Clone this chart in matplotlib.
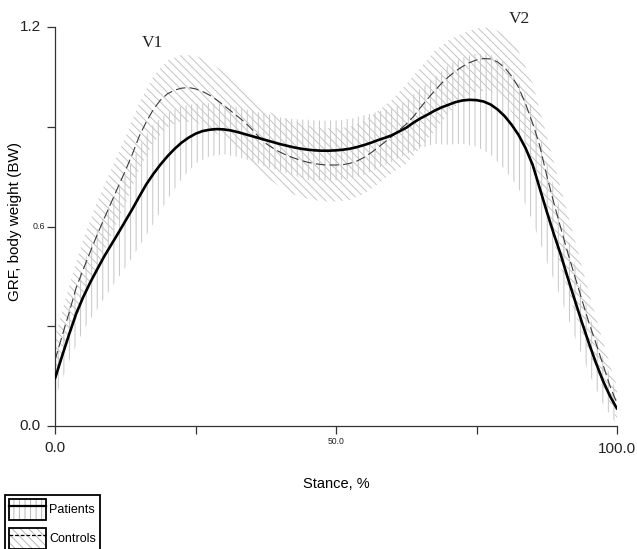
import matplotlib
matplotlib.use("Agg")
import matplotlib.pyplot as plt
import numpy as np
from matplotlib.patches import Patch
from matplotlib.lines import Line2D
from matplotlib.legend_handler import HandlerTuple

# ---- data ----
stance = [0, 1.25, 2.5, 3.75, 5, 6.25, 7.5, 8.75, 10, 11.25, 12.5, 13.75, 15, 16.25,
          17.5, 18.75, 20, 21.25, 22.5, 23.75, 25, 26.25, 27.5, 28.75, 30, 31.25,
          32.5, 33.75, 35, 36.25, 37.5, 38.75, 40, 41.25, 42.5, 43.75, 45, 46.25,
          47.5, 48.75, 50, 51.25, 52.5, 53.75, 55, 56.25, 57.5, 58.75, 60, 61.25,
          62.5, 63.75, 65, 66.25, 67.5, 68.75, 70, 71.25, 72.5, 73.75, 75, 76.25,
          77.5, 78.75, 80, 81.25, 82.5, 83.75, 85, 86.25, 87.5, 88.75, 90, 91.25,
          92.5, 93.75, 95, 96.25, 97.5, 98.75, 100]

patients_mean = [0.143, 0.21, 0.275, 0.337, 0.387, 0.431, 0.471, 0.51, 0.545, 0.58,
                 0.616, 0.652, 0.69, 0.727, 0.758, 0.786, 0.811, 0.833, 0.852, 0.867,
                 0.879, 0.887, 0.891, 0.893, 0.892, 0.889, 0.884, 0.878, 0.872, 0.866,
                 0.86, 0.854, 0.848, 0.843, 0.838, 0.834, 0.831, 0.829, 0.828, 0.828,
                 0.829, 0.831, 0.834, 0.839, 0.845, 0.852, 0.86, 0.867, 0.875, 0.886,
                 0.897, 0.912, 0.925, 0.936, 0.948, 0.958, 0.966, 0.974, 0.979, 0.981,
                 0.98, 0.976, 0.967, 0.952, 0.932, 0.906, 0.875, 0.835, 0.785, 0.715,
                 0.645, 0.578, 0.515, 0.445, 0.378, 0.312, 0.249, 0.19, 0.136, 0.09, 0.052]

controls_mean = [0.198, 0.27, 0.34, 0.415, 0.47, 0.523, 0.575, 0.624, 0.672, 0.72,
                 0.767, 0.817, 0.872, 0.915, 0.952, 0.98, 0.999, 1.01, 1.016, 1.018,
                 1.014, 1.006, 0.995, 0.981, 0.965, 0.948, 0.931, 0.914, 0.893, 0.87,
                 0.85, 0.836, 0.824, 0.814, 0.806, 0.799, 0.793, 0.789, 0.786, 0.785,
                 0.785, 0.786, 0.79, 0.797, 0.808, 0.822, 0.838, 0.855, 0.872, 0.89,
                 0.908, 0.93, 0.957, 0.983, 1.007, 1.03, 1.05, 1.067, 1.081, 1.093,
                 1.101, 1.105, 1.104, 1.095, 1.078, 1.052, 1.018, 0.968, 0.91, 0.843,
                 0.753, 0.672, 0.595, 0.52, 0.45, 0.38, 0.311, 0.249, 0.185, 0.12, 0.068]

band_stance = [0, 2.5, 5, 7.5, 10, 12.5, 15, 17.5, 20, 22.5, 25, 27.5, 30, 32.5, 35,
               37.5, 40, 42.5, 45, 47.5, 50, 52.5, 55, 57.5, 60, 62.5, 65, 67.5, 70,
               72.5, 75, 77.5, 80, 82.5, 85, 87.5, 90, 92.5, 95, 97.5, 100]
patients_sd = [0.06, 0.08, 0.10, 0.12, 0.13, 0.14, 0.15, 0.15, 0.13, 0.11, 0.09, 0.08,
               0.075, 0.075, 0.075, 0.08, 0.08, 0.085, 0.09, 0.09, 0.09, 0.09, 0.09,
               0.085, 0.08, 0.08, 0.09, 0.10, 0.12, 0.13, 0.14, 0.15, 0.16, 0.16, 0.17,
               0.15, 0.13, 0.11, 0.09, 0.07, 0.05]
controls_sd = [0.07, 0.08, 0.09, 0.10, 0.10, 0.10, 0.10, 0.10, 0.10, 0.10, 0.10, 0.10,
               0.10, 0.10, 0.10, 0.10, 0.105, 0.11, 0.11, 0.11, 0.11, 0.11, 0.11, 0.11,
               0.11, 0.12, 0.12, 0.12, 0.11, 0.10, 0.095, 0.095, 0.10, 0.11, 0.12,
               0.12, 0.12, 0.11, 0.09, 0.07, 0.05]

yticks = [0.0, 0.3, 0.6, 0.9, 1.2]
xticks = [0, 25, 50, 75, 100]
ytick_labels = {0.0: ("0.0", 11, -10.8), 0.6: ("0.6", 6.4, -7.0), 1.2: ("1.2", 11, -10.3)}
xtick_labels = {0: ("0.0", 11, -15.8), 50: ("50.0", 6.2, -11.3), 100: ("100.0", 11, -16.3)}

# ---- figure ----
plt.rcParams['font.family'] = ['Liberation Sans', 'DejaVu Sans']
plt.rcParams['hatch.linewidth'] = 0.7

W, H = 637, 549
fig = plt.figure(figsize=(W / 100, H / 100), dpi=100)
ax = fig.add_axes([55 / W, 1 - 426 / H, (617 - 55) / W, (426 - 27) / H])

bx = np.array(band_stance)
bp_m = np.interp(bx, stance, patients_mean)
bc_m = np.interp(bx, stance, controls_mean)
ps, cs = np.array(patients_sd), np.array(controls_sd)

band_grey_p = '#c6c6c6'
band_grey_c = '#c4c4c4'

ax.fill_between(bx, bc_m - cs, bc_m + cs, facecolor='none', edgecolor=band_grey_c,
                linewidth=0, hatch='\\\\\\\\', zorder=1)
ax.fill_between(bx, bp_m - ps, bp_m + ps, facecolor='none', edgecolor=band_grey_p,
                linewidth=0, hatch='|||', zorder=1)

ax.plot(stance, controls_mean, color='#3a3a3a', lw=0.8, dashes=(8.5, 3.8), zorder=3)
ax.plot(stance, patients_mean, color='black', lw=1.9, zorder=4,
        solid_capstyle='round', solid_joinstyle='round')

ax.set_xlim(0, 100)
ax.set_ylim(0, 1.2)
for s in ('top', 'right'):
    ax.spines[s].set_visible(False)
for s in ('left', 'bottom'):
    ax.spines[s].set_color('#333333')
    ax.spines[s].set_linewidth(0.9)

ax.set_yticks(yticks)
ax.set_xticks(xticks)
ax.set_yticklabels([])
ax.set_xticklabels([])
ax.tick_params(axis='both', direction='out', length=6, width=0.9, color='#333333')

for v, (lab, fs, off) in ytick_labels.items():
    ax.annotate(lab, xy=(0, v), xycoords=('axes fraction', 'data'),
                xytext=(off, 0), textcoords='offset points',
                ha='right', va='center', fontsize=fs, color='#222222')
for v, (lab, fs, off) in xtick_labels.items():
    ax.annotate(lab, xy=(v, 0), xycoords=('data', 'axes fraction'),
                xytext=(0, off), textcoords='offset points',
                ha='center', va='center', fontsize=fs, color='#222222')

ax.text(17.4, 1.153, 'V1', family=['Liberation Serif', 'DejaVu Serif'], fontsize=12.5,
        ha='center', va='center', color='#222222')
ax.text(82.6, 1.224, 'V2', family=['Liberation Serif', 'DejaVu Serif'], fontsize=12.5,
        ha='center', va='center', color='#222222', clip_on=False)

fig.text(336 / W, 1 - 484 / H, 'Stance, %', ha='center', va='center', fontsize=10.5)
fig.text(15 / W, 1 - 221 / H, 'GRF, body weight (BW)', ha='center', va='center',
         rotation=90, fontsize=11)

# ---- legend ----
p_hatch = Patch(facecolor='white', edgecolor='#b8b8b8', linewidth=0, hatch='|||')
c_hatch = Patch(facecolor='white', edgecolor='#b8b8b8', linewidth=0, hatch='\\\\\\\\')
box = Patch(facecolor='none', edgecolor='black', linewidth=1.3)
p_line = Line2D([], [], color='black', lw=1.6)
c_line = Line2D([], [], color='black', lw=0.9, dashes=(3, 1.5))

leg = fig.legend([(p_hatch, box, p_line), (c_hatch, box, c_line)], ['Patients', 'Controls'],
                 handler_map={tuple: HandlerTuple(ndivide=1, pad=0)},
                 loc='upper left', bbox_to_anchor=(5 / W, 1 - 495 / H),
                 bbox_transform=fig.transFigure, fontsize=9, frameon=True,
                 fancybox=False, framealpha=1, edgecolor='black',
                 handlelength=3.0, handleheight=2.2, handletextpad=0.25,
                 borderpad=0.3, labelspacing=0.64, borderaxespad=0)
leg.get_frame().set_linewidth(1.3)

fig.savefig('out.png', dpi=100)
